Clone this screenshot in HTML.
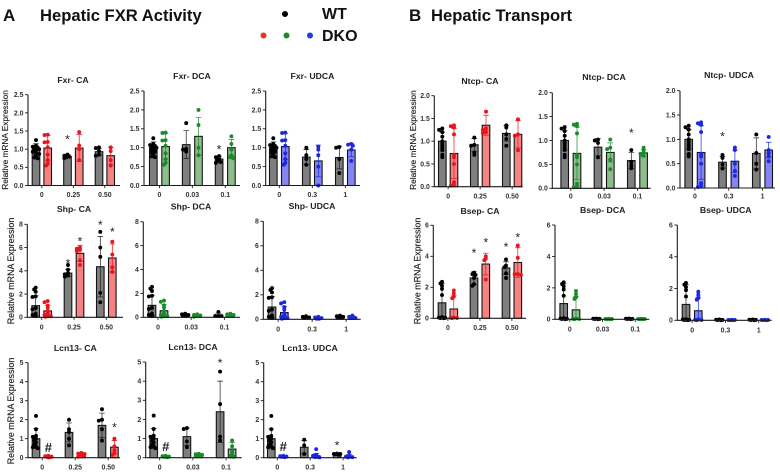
<!DOCTYPE html>
<html lang="en">
<head>
<meta charset="utf-8">
<title>Hepatic FXR Activity and Hepatic Transport</title>
<style>
  html, body { margin: 0; padding: 0; background: #fff; }
  body { width: 780px; height: 473px; overflow: hidden; }
  svg { display: block; filter: blur(0.35px); font-family: "Liberation Sans", Arial, sans-serif; }
  .big { font-weight: 700; fill: #111; }
  .title { font-weight: 700; font-size: 8.7px; fill: #222; text-anchor: middle; }
  .tick { font-weight: 700; font-size: 6.9px; fill: #333; }
  .ytitle { font-weight: 400; font-size: 8.9px; fill: #222; text-anchor: middle; stroke: #222; stroke-width: 0.15px; }
  .ytitle-small { font-size: 8.3px; }
</style>
</head>
<body>
<svg id="figure" width="780" height="473" viewBox="0 0 780 473" xmlns="http://www.w3.org/2000/svg">
  <rect width="780" height="473" fill="#fff"/>
  <text class="big" x="3" y="21" font-size="17">A</text>
  <text class="big" x="40" y="21" font-size="16.6">Hepatic FXR Activity</text>
  <text class="big" x="409" y="21" font-size="17">B</text>
  <text class="big" x="431" y="21" font-size="16.6">Hepatic Transport</text>
  <circle cx="285" cy="14" r="3" fill="#000"/>
  <text class="big" x="322" y="19" font-size="16">WT</text>
  <circle cx="263.500" cy="35.500" r="3" fill="#e8331f"/>
  <circle cx="286.500" cy="35.500" r="3" fill="#1a8a2a"/>
  <circle cx="310" cy="35.500" r="3" fill="#1f3de8"/>
  <text class="big" x="322" y="41" font-size="16">DKO</text>
</svg>
<script>
// Category labels and y-axis tick labels
const caFxrCategories = ['0', '0.25', '0.50'];
const dcaCategories = ['0', '0.03', '0.1'];
const udcaCategories = ['0', '0.3', '1'];
const fxrTicks = ['0.0', '0.5', '1.0', '1.5', '2.0', '2.5'];
const shpTicks = ['0', '2', '4', '6', '8'];
const lcnTicks = ['0', '1', '2', '3', '4', '5'];
const ntcpTicks = ['0.0', '0.5', '1.0', '1.5', '2.0'];
const bsepTicks = ['0', '2', '4', '6'];

// Fxr
const fxrWtControl = [1.25, 1.1, 1.07, 1.05, 1.02, 1, 0.97, 0.93, 0.9, 0.87, 0.82, 0.77, 0.75];
const fxrDkoControl = [1.4, 1.39, 1.2, 1.19, 1.05, 0.85, 0.7, 0.6, 0.55];
const fxrCaMeans = [1, 1.03, 0.8, 1.03, 0.93, 0.82];
const fxrCaErrors = [0.15, 0.35, 0.05, 0.37, 0.1, 0.23];
const fxrCaPoints = [fxrWtControl, fxrDkoControl, [0.85, 0.82, 0.8, 0.78, 0.75], [1.47, 1.1, 1, 0.7], [1.05, 1.03, 0.95, 0.85, 0.82], [1.05, 0.95, 0.7, 0.55]];
const fxrCaMarks = [[2, 1.35, '*']];
const fxrDcaMeans = [1, 1.03, 1.08, 1.3, 0.7, 1];
const fxrDcaErrors = [0.15, 0.35, 0.37, 0.5, 0.06, 0.22];
const fxrDcaPoints = [fxrWtControl, fxrDkoControl, [1.65, 0.97, 0.95, 0.9], [2, 1.6, 1, 0.8], [0.78, 0.75, 0.7, 0.65, 0.62, 0.6], [1.3, 1.1, 0.95, 0.8, 0.75, 0.72]];
const fxrDcaMarks = [[4, 1.03, '*']];
const fxrUdcaMeans = [1, 1.03, 0.75, 0.65, 0.74, 0.94];
const fxrUdcaErrors = [0.15, 0.35, 0.2, 0.42, 0.3, 0.18];
const fxrUdcaPoints = [fxrWtControl, fxrDkoControl, [1, 0.8, 0.7, 0.55], [1.03, 0.95, 0.8, 0.5, 0], [1.02, 1, 0.7, 0.33], [1.1, 1.08, 1.05, 0.95, 0.65]];
const fxrUdcaMarks = [];

// Shp
const shpWtControl = [2.55, 2.4, 2.2, 1.8, 1.75, 0.8, 0.7, 0.3, 0.2, 0.1];
const shpDkoControl = [1.4, 1.3, 1, 0.8, 0.5, 0.3, 0.2, 0.1, 0.1, 0.05];
const shpCaMeans = [1, 0.55, 3.8, 5.5, 4.35, 5.1];
const shpCaErrors = [0.85, 0.5, 0.3, 0.7, 2.6, 1.2];
const shpCaPoints = [shpWtControl, shpDkoControl, [4.5, 4.1, 3.8, 3.7, 3.6, 3.5], [6, 5.9, 5.8, 5.7, 4.9, 4.5], [7.35, 6, 5.2, 2.1, 1.3], [6.5, 5.4, 4.3, 3.9]];
const shpCaMarks = [[2, 4.9, '*'], [3, 6.8, '*'], [4, 8.2, '*'], [5, 7.6, '*']];
const shpDcaMeans = [1, 0.55, 0.2, 0.15, 0.2, 0.2];
const shpDcaErrors = [0.85, 0.5, 0.1, 0.08, 0.15, 0.08];
const shpDcaPoints = [shpWtControl, shpDkoControl, [0.3, 0.25, 0.2, 0.15, 0.1], [0.25, 0.2, 0.15, 0.1, 0.1, 0.05], [0.45, 0.1, 0.1, 0.1], [0.3, 0.25, 0.2, 0.15, 0.1, 0.1]];
const shpDcaMarks = [];
const shpUdcaMeans = [1, 0.55, 0.15, 0.12, 0.22, 0.18];
const shpUdcaErrors = [0.85, 0.5, 0.08, 0.07, 0.05, 0.08];
const shpUdcaPoints = [shpWtControl, shpDkoControl, [0.25, 0.2, 0.15, 0.1], [0.2, 0.15, 0.1, 0.05, 0.05], [0.3, 0.25, 0.2, 0.2, 0.15], [0.3, 0.2, 0.15, 0.1, 0.1]];
const shpUdcaMarks = [];

// Lcn13
const lcnWtControl = [2.2, 1.5, 1.15, 1.1, 1, 0.9, 0.8, 0.7, 0.6, 0.55, 0.5];
const lcnCaMeans = [1, 0.05, 1.33, 0.18, 1.7, 0.55];
const lcnCaErrors = [0.52, 0.03, 0.5, 0.06, 0.65, 0.35];
const lcnCaPoints = [lcnWtControl, [0.1, 0.08, 0.05, 0.05, 0.03, 0.02], [2, 1.5, 1.35, 1, 0.65], [0.25, 0.22, 0.2, 0.15, 0.1, 0.05], [2.55, 2, 1.95, 1.5, 0.9], [1, 0.6, 0.4, 0.25, 0.15]];
const lcnCaMarks = [[1, 0.55, '#'], [5, 1.75, '*']];
const lcnDcaMeans = [1, 0.06, 1.1, 0.15, 2.4, 0.45];
const lcnDcaErrors = [0.52, 0.03, 0.45, 0.04, 1.6, 0.35];
const lcnDcaPoints = [lcnWtControl, [0.1, 0.08, 0.06, 0.05, 0.03], [1.55, 1.5, 0.85, 0.55], [0.2, 0.18, 0.15, 0.12, 0.1, 0.08], [4.5, 2.8, 1.1, 0.9], [0.9, 0.6, 0.35, 0.2, 0.1, 0.05]];
const lcnDcaMarks = [[1, 0.6, '#'], [4, 5.1, '*']];
const lcnUdcaMeans = [1, 0.06, 0.55, 0.1, 0.2, 0.08];
const lcnUdcaErrors = [0.52, 0.03, 0.35, 0.12, 0.03, 0.1];
const lcnUdcaPoints = [lcnWtControl, [0.1, 0.08, 0.06, 0.05, 0.03], [0.95, 0.65, 0.2], [0.45, 0.15, 0.1, 0.05, 0.03, 0.02], [0.22, 0.2, 0.2, 0.18, 0.15], [0.3, 0.1, 0.05, 0.03, 0.02]];
const lcnUdcaMarks = [[1, 0.6, '#'], [4, 0.8, '*']];

// Ntcp
const ntcpWtControl = [1.28, 1.25, 1.2, 1.1, 1, 0.95, 0.9, 0.85, 0.8, 0.7, 0.65];
const ntcpDkoControl = [1.35, 1.33, 1.3, 1.15, 0.7, 0.65, 0.5, 0.1, 0.05, 0.02];
const ntcpCaMeans = [1, 0.73, 0.92, 1.35, 1.17, 1.15];
const ntcpCaErrors = [0.2, 0.55, 0.14, 0.22, 0.17, 0.3];
const ntcpCaPoints = [ntcpWtControl, ntcpDkoControl, [1.08, 0.92, 0.9, 0.75, 0.7], [1.65, 1.28, 1.25, 1.2, 1.18], [1.35, 1.3, 1.15, 1.05, 0.9], [1.48, 1.15, 1.12, 0.8]];
const ntcpCaMarks = [];
const ntcpDcaMeans = [1, 0.73, 0.86, 0.75, 0.58, 0.74];
const ntcpDcaErrors = [0.2, 0.55, 0.18, 0.2, 0.17, 0.07];
const ntcpDcaPoints = [ntcpWtControl, ntcpDkoControl, [1.02, 1, 0.95, 0.65], [1.02, 0.85, 0.82, 0.6, 0.4], [0.8, 0.55, 0.48, 0.42], [0.85, 0.8, 0.75, 0.72, 0.68]];
const ntcpDcaMarks = [[4, 1.22, '*']];
const ntcpUdcaMeans = [1, 0.73, 0.53, 0.55, 0.71, 0.78];
const ntcpUdcaErrors = [0.2, 0.55, 0.12, 0.23, 0.32, 0.16];
const ntcpUdcaPoints = [ntcpWtControl, ntcpDkoControl, [0.68, 0.62, 0.48, 0.4], [0.83, 0.78, 0.5, 0.35, 0.25], [1.1, 0.72, 0.5, 0.38], [1.05, 0.78, 0.72, 0.65, 0.55]];
const ntcpUdcaMarks = [[2, 1.12, '*']];

// Bsep
const bsepWtControl = [2.35, 2.25, 2.1, 1.9, 1.5, 0.08, 0.05, 0.03, 0.02, 0.01];
const bsepDkoControl = [1.8, 1.6, 1.4, 1.3, 0.05, 0.03, 0.02, 0.01];
const bsepCaMeans = [1, 0.6, 2.6, 3.5, 3.25, 3.6];
const bsepCaErrors = [1.25, 0.85, 0.4, 0.7, 0.4, 0.95];
const bsepCaPoints = [bsepWtControl, bsepDkoControl, [2.95, 2.85, 2.8, 2.6, 2.2, 2.1], [4, 3.85, 3.75, 2.5], [3.8, 3.4, 3.3, 2.9, 2.6], [4.7, 3.9, 2.85, 2.85, 2.8]];
const bsepCaMarks = [[2, 4.4, '*'], [3, 5.1, '*'], [4, 4.8, '*'], [5, 5.4, '*']];
const bsepDcaMeans = [1, 0.6, 0.03, 0.02, 0.03, 0.02];
const bsepDcaErrors = [1.25, 0.85, 0.02, 0.01, 0.02, 0.01];
const bsepDcaPoints = [bsepWtControl, bsepDkoControl, [0.05, 0.04, 0.03, 0.02, 0.01], [0.03, 0.02, 0.02, 0.01, 0.01], [0.05, 0.04, 0.03, 0.02, 0.01], [0.03, 0.02, 0.02, 0.01, 0.01]];
const bsepDcaMarks = [];
const bsepUdcaMeans = [1, 0.6, 0.03, 0.02, 0.03, 0.02];
const bsepUdcaErrors = [1.25, 0.85, 0.02, 0.01, 0.02, 0.01];
const bsepUdcaPoints = [bsepWtControl, bsepDkoControl, [0.05, 0.04, 0.03, 0.02, 0.01], [0.03, 0.02, 0.02, 0.01, 0.01], [0.05, 0.04, 0.03, 0.02, 0.01], [0.03, 0.02, 0.02, 0.01, 0.01]];
const bsepUdcaMarks = [];

// Styling of the three treatments
const treatments = {
  ca: { fill: '#f58383', dot: '#e8141e' },
  dca: { fill: '#8dbd8d', dot: '#1a8a2a' },
  udca: { fill: '#8484f2', dot: '#1a28e0' }
};

// Panel frames: axis placement on the page, kept apart from the data
const panels = [
  { title: 'Fxr- CA', t: 'ca', cats: caFxrCategories, ticks: fxrTicks, means: fxrCaMeans, errs: fxrCaErrors, pts: fxrCaPoints, marks: fxrCaMarks, ax: 28, base: 185.5, top: 94.7, end: 120, first: 36, step: 31.5, gap: 11.7, tx: 73, ty: 83, ly: 197, yt: [8.2, 140], ytSmall: true },
  { title: 'Fxr- DCA', t: 'dca', cats: dcaCategories, ticks: fxrTicks, means: fxrDcaMeans, errs: fxrDcaErrors, pts: fxrDcaPoints, marks: fxrDcaMarks, ax: 144, base: 185.5, top: 91, end: 240, first: 153.3, step: 32.9, gap: 12.3, tx: 192, ty: 79, ly: 197 },
  { title: 'Fxr- UDCA', t: 'udca', cats: udcaCategories, ticks: fxrTicks, means: fxrUdcaMeans, errs: fxrUdcaErrors, pts: fxrUdcaPoints, marks: fxrUdcaMarks, ax: 265.7, base: 185.5, top: 91, end: 360, first: 273.3, step: 33, gap: 12, tx: 312.5, ty: 79, ly: 197 },
  { title: 'Shp- CA', t: 'ca', cats: caFxrCategories, ticks: shpTicks, means: shpCaMeans, errs: shpCaErrors, pts: shpCaPoints, marks: shpCaMarks, ax: 27.3, base: 317.3, top: 224.3, end: 123, first: 35.7, step: 32.3, gap: 12, tx: 74, ty: 212, ly: 329.5, yt: [14, 271] },
  { title: 'Shp- DCA', t: 'dca', cats: dcaCategories, ticks: shpTicks, means: shpDcaMeans, errs: shpDcaErrors, pts: shpDcaPoints, marks: shpDcaMarks, ax: 143.3, base: 317.3, top: 221.7, end: 240, first: 152, step: 33.2, gap: 12, tx: 191, ty: 209.5, ly: 329.5 },
  { title: 'Shp- UDCA', t: 'udca', cats: udcaCategories, ticks: shpTicks, means: shpUdcaMeans, errs: shpUdcaErrors, pts: shpUdcaPoints, marks: shpUdcaMarks, ax: 263.3, base: 319.3, top: 221.3, end: 360.7, first: 272, step: 34, gap: 12.3, tx: 312, ty: 209, ly: 331.5 },
  { title: 'Lcn13- CA', t: 'ca', cats: caFxrCategories, ticks: lcnTicks, means: lcnCaMeans, errs: lcnCaErrors, pts: lcnCaPoints, marks: lcnCaMarks, ax: 28, base: 457.7, top: 362.7, end: 120, first: 36, step: 33, gap: 12.4, tx: 75.3, ty: 351, ly: 469.5, yt: [14, 411] },
  { title: 'Lcn13- DCA', t: 'dca', cats: dcaCategories, ticks: lcnTicks, means: lcnDcaMeans, errs: lcnDcaErrors, pts: lcnDcaPoints, marks: lcnDcaMarks, ax: 145.7, base: 457.7, top: 362, end: 241.7, first: 153.7, step: 33.2, gap: 12, tx: 193, ty: 350, ly: 469.5 },
  { title: 'Lcn13- UDCA', t: 'udca', cats: udcaCategories, ticks: lcnTicks, means: lcnUdcaMeans, errs: lcnUdcaErrors, pts: lcnUdcaPoints, marks: lcnUdcaMarks, ax: 263.7, base: 457.7, top: 362.7, end: 356.7, first: 271.3, step: 32.9, gap: 12, tx: 310, ty: 351, ly: 469.5 },
  { title: 'Ntcp- CA', t: 'ca', cats: caFxrCategories, ticks: ntcpTicks, means: ntcpCaMeans, errs: ntcpCaErrors, pts: ntcpCaPoints, marks: ntcpCaMarks, ax: 434.3, base: 186.7, top: 95.7, end: 522.7, first: 442.3, step: 32, gap: 11.7, tx: 480, ty: 84, ly: 198.5, yt: [416, 140], ytSmall: true },
  { title: 'Ntcp- DCA', t: 'dca', cats: dcaCategories, ticks: ntcpTicks, means: ntcpDcaMeans, errs: ntcpDcaErrors, pts: ntcpDcaPoints, marks: ntcpDcaMarks, ax: 552.3, base: 188.3, top: 92.7, end: 650.7, first: 564.7, step: 33.3, gap: 12.3, tx: 604, ty: 80, ly: 198.5 },
  { title: 'Ntcp- UDCA', t: 'udca', cats: udcaCategories, ticks: ntcpTicks, means: ntcpUdcaMeans, errs: ntcpUdcaErrors, pts: ntcpUdcaPoints, marks: ntcpUdcaMarks, ax: 680, base: 188, top: 90.7, end: 775, first: 688.7, step: 33.8, gap: 12.4, tx: 729, ty: 78, ly: 198.5 },
  { title: 'Bsep- CA', t: 'ca', cats: caFxrCategories, ticks: bsepTicks, means: bsepCaMeans, errs: bsepCaErrors, pts: bsepCaPoints, marks: bsepCaMarks, ax: 433.3, base: 318.3, top: 225.3, end: 526, first: 442, step: 32, gap: 11.8, tx: 480, ty: 214, ly: 330, yt: [420.5, 271] },
  { title: 'Bsep- DCA', t: 'dca', cats: dcaCategories, ticks: bsepTicks, means: bsepDcaMeans, errs: bsepDcaErrors, pts: bsepDcaPoints, marks: bsepDcaMarks, ax: 555, base: 319.3, top: 225, end: 649.3, first: 563.7, step: 32.7, gap: 12.3, tx: 602.7, ty: 213, ly: 331.5 },
  { title: 'Bsep- UDCA', t: 'udca', cats: udcaCategories, ticks: bsepTicks, means: bsepUdcaMeans, errs: bsepUdcaErrors, pts: bsepUdcaPoints, marks: bsepUdcaMarks, ax: 677.3, base: 320.3, top: 225, end: 771.7, first: 686, step: 33.3, gap: 12.3, tx: 725.7, ty: 213, ly: 332.5 }
];

const NS = 'http://www.w3.org/2000/svg';
const figure = document.getElementById('figure');
const BAR_W = 7.6;
const DOT_R = 1.95;
const AXIS_COLOR = '#1c1c1c';

function make(tag, attrs, parent) {
  const el = document.createElementNS(NS, tag);
  for (const k in attrs) el.setAttribute(k, attrs[k]);
  parent.appendChild(el);
  return el;
}

function slug(s) {
  return s.toLowerCase().replace(/[^a-z0-9]+/g, '-');
}

// Small beeswarm: shift a point sideways only when it would overlap another
function swarm(ys, maxShift) {
  const placed = [];
  const steps = [0, -0.5, 0.5, -1, 1, -0.25, 0.25, -0.75, 0.75];
  return ys.map(function (y) {
    let best = 0;
    let bestScore = -1;
    for (const s of steps) {
      const dx = s * maxShift;
      let nearest = 99;
      for (const p of placed) {
        nearest = Math.min(nearest, Math.hypot(p[0] - dx, p[1] - y));
      }
      if (nearest > 2.2) { best = dx; bestScore = 99; break; }
      if (nearest > bestScore) { bestScore = nearest; best = dx; }
    }
    placed.push([best, y]);
    return best;
  });
}

panels.forEach(function (p) {
  const key = slug(p.title);
  const yMax = parseFloat(p.ticks[p.ticks.length - 1]);
  const yScale = function (v) { return p.base - (v / yMax) * (p.base - p.top); };
  const xScale = function (i) { return p.first + Math.floor(i / 2) * p.step + (i % 2) * p.gap; };
  const groupCenter = function (g) { return p.first + g * p.step + p.gap / 2; };

  const g = make('g', {}, figure);
  
  

  const title = make('text', { x: p.tx, y: p.ty, class: 'title' }, g);
  title.textContent = p.title;
  
  

  if (p.yt) {
    const yt = make('text', { x: p.yt[0], y: p.yt[1], class: p.ytSmall ? 'ytitle ytitle-small' : 'ytitle', transform: 'rotate(-90 ' + p.yt[0] + ' ' + p.yt[1] + ')' }, g);
    yt.textContent = 'Relative mRNA Expression';
    
    
  }

  // Bars
  p.means.forEach(function (m, i) {
    const dko = i % 2 === 1;
    const x = xScale(i);
    const y = yScale(m);
    const bar = make('rect', { x: x - BAR_W / 2, y: y, width: BAR_W, height: Math.max(p.base - y, 0), fill: dko ? treatments[p.t].fill : '#7f7f7f', stroke: '#141414', 'stroke-width': 1.1 }, g);
    
    
  });

  // Error bars
  p.errs.forEach(function (e, i) {
    const dko = i % 2 === 1;
    const color = dko ? treatments[p.t].dot : '#1a1a1a';
    const x = xScale(i);
    const hi = yScale(p.means[i] + e);
    const lo = yScale(Math.max(p.means[i] - e, 0));
    const path = 'M' + x + ' ' + hi + 'V' + lo + 'M' + (x - 2.8) + ' ' + hi + 'H' + (x + 2.8) + 'M' + (x - 2.8) + ' ' + lo + 'H' + (x + 2.8);
    const err = make('path', { d: path, stroke: color, 'stroke-width': 0.7, fill: 'none' }, g);
    
    
  });

  // Points
  p.pts.forEach(function (values, i) {
    const dko = i % 2 === 1;
    const color = dko ? treatments[p.t].dot : '#000';
    const ys = values.map(yScale);
    const shifts = swarm(ys, 3.2);
    values.forEach(function (v, j) {
      const dot = make('circle', { cx: xScale(i) + shifts[j], cy: ys[j], r: DOT_R, fill: color }, g);
      
      
    });
  });

  // Axes
  const axes = make('path', { d: 'M' + p.ax + ' ' + p.top + 'V' + p.base + 'H' + p.end, stroke: AXIS_COLOR, 'stroke-width': 1.1, fill: 'none' }, g);
  
  

  p.ticks.forEach(function (label) {
    const y = yScale(parseFloat(label));
    const tick = make('path', { d: 'M' + (p.ax - 3) + ' ' + y + 'H' + p.ax, stroke: AXIS_COLOR, 'stroke-width': 0.9 }, g);
    
    
    const text = make('text', { x: p.ax - 4.5, y: y + 2.4, class: 'tick', 'text-anchor': 'end' }, g);
    text.textContent = label;
    
    
  });

  p.cats.forEach(function (label, c) {
    const x = groupCenter(c);
    const tick = make('path', { d: 'M' + x + ' ' + p.base + 'v2.6', stroke: AXIS_COLOR, 'stroke-width': 0.9 }, g);
    
    
    const text = make('text', { x: x, y: p.ly, class: 'tick', 'text-anchor': 'middle' }, g);
    text.textContent = label;
    
    
  });

  // Significance marks: [bar index, value, symbol]
  p.marks.forEach(function (m) {
    const star = m[2] === '*';
    const mark = make('text', { x: xScale(m[0]), y: yScale(m[1]) + (star ? 7 : 4.7), 'text-anchor': 'middle', 'font-size': star ? 12 : 13, 'font-weight': star ? 400 : 700, fill: '#222' }, g);
    mark.textContent = m[2];
    
    
  });
});
</script>
</body>
</html>
